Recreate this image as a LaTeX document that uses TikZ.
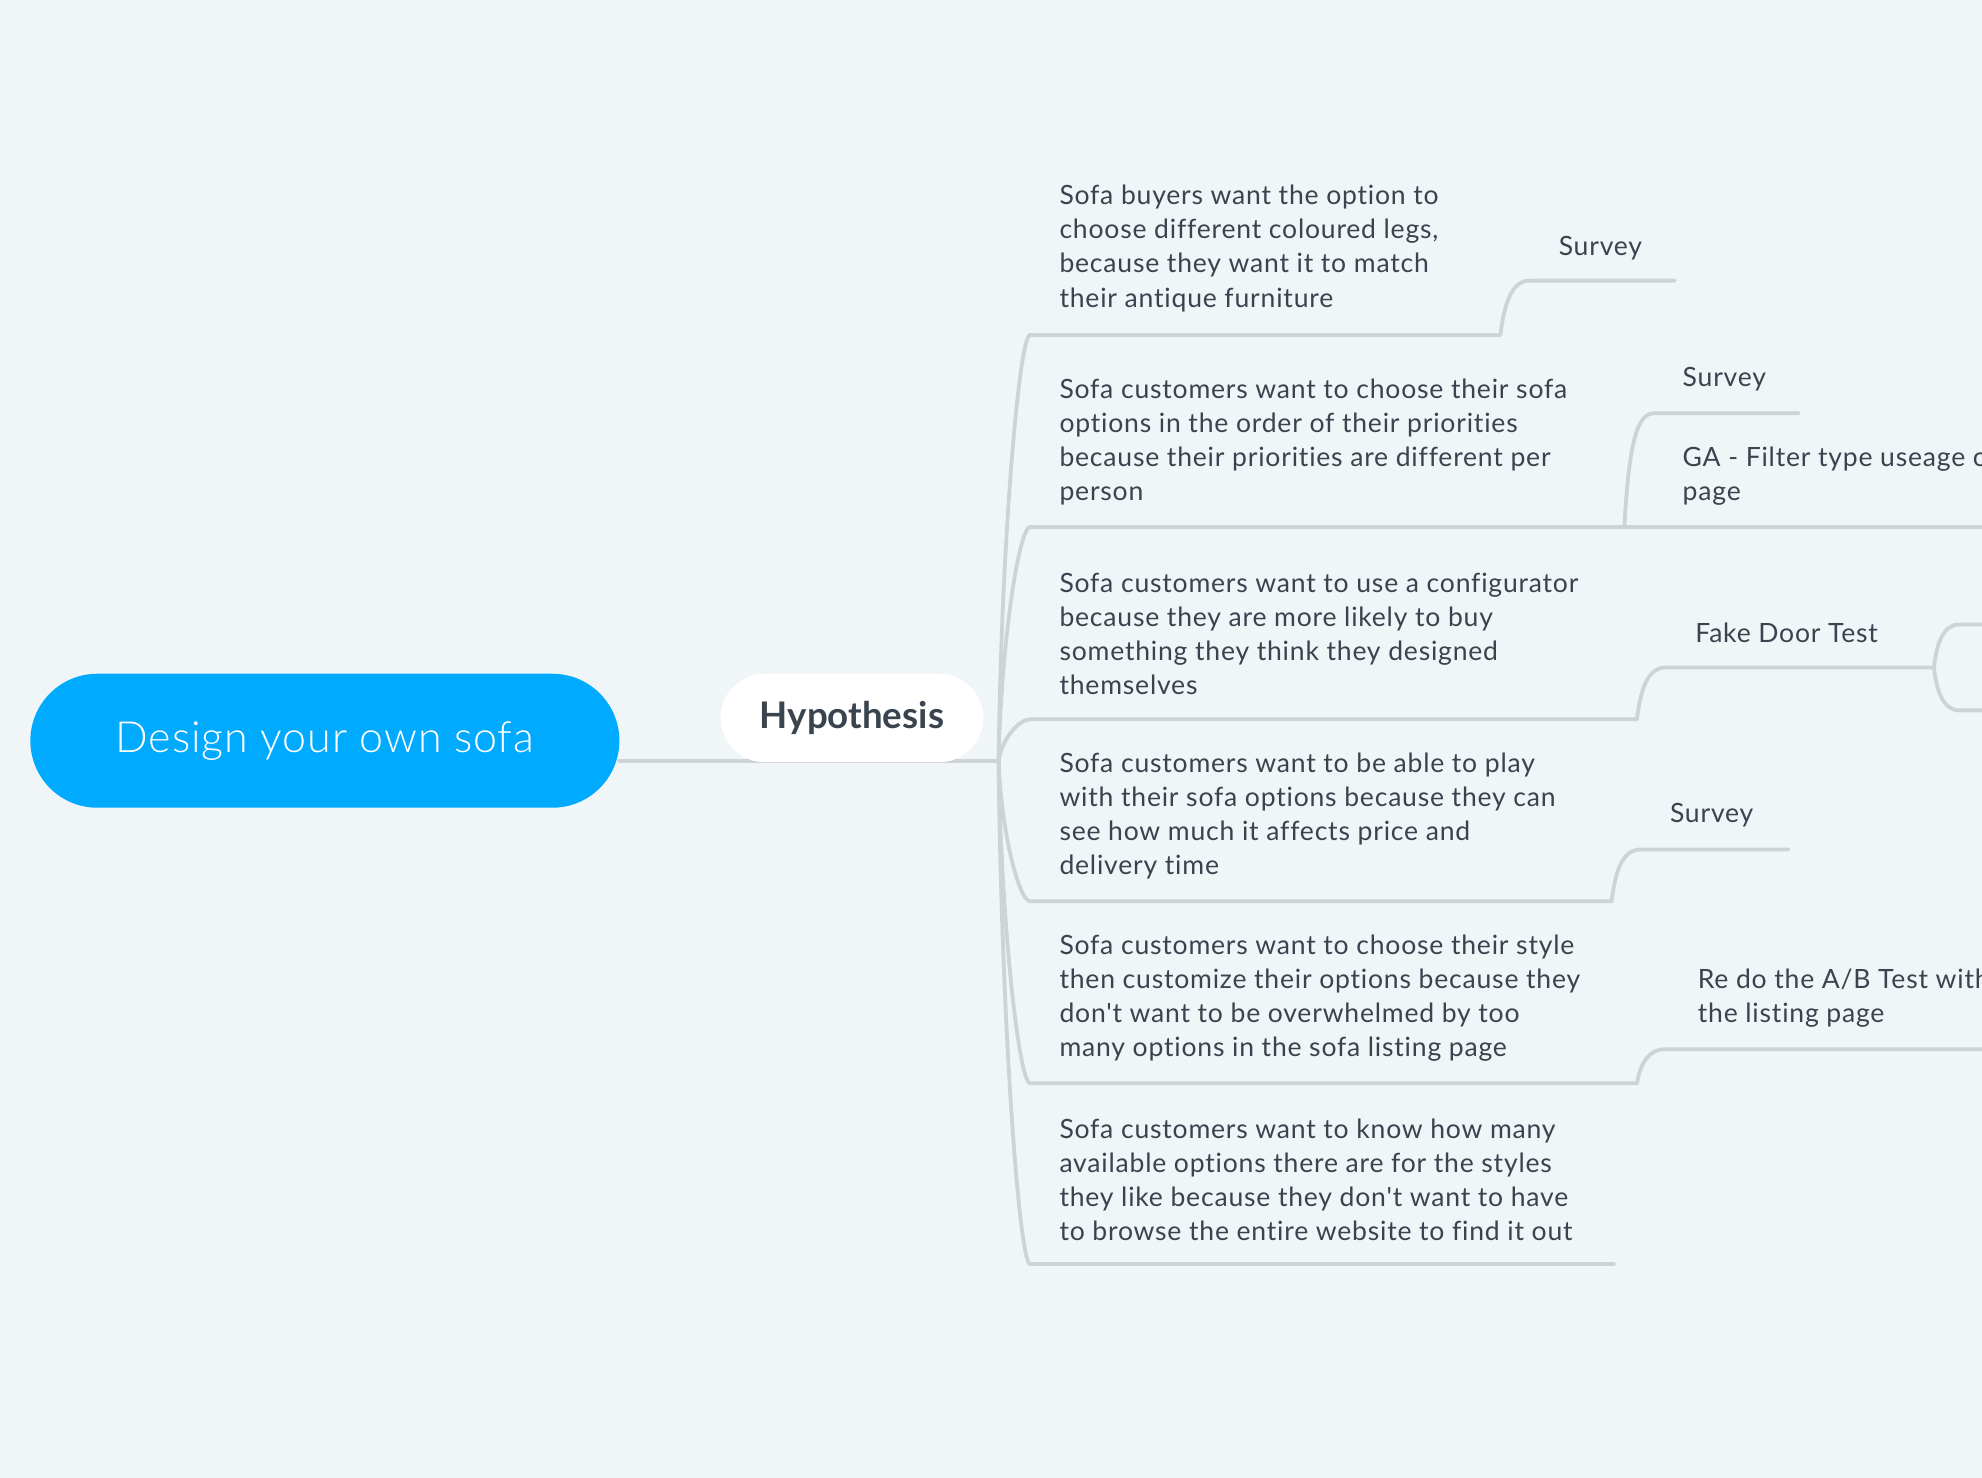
\documentclass[tikz,border=0pt]{standalone}
\usepackage{fontspec}
\setmainfont{Lato}[Ligatures={NoCommon}]
\newfontfamily\ideafont{Lato}[LetterSpace=3, Ligatures={NoCommon}]
\newfontfamily\rootfont{Lato}[UprightFont=* Light, LetterSpace=2]
\usepackage{tikz}
\usetikzlibrary{positioning}

\definecolor{bgcol}{HTML}{F0F5F8}
\definecolor{rootblue}{HTML}{00AAFF}
\definecolor{inkgray}{HTML}{3A444E}
\definecolor{linegray}{HTML}{CDD3D7}

\tikzset{
  branch/.style={draw=linegray, line width=3pt, line cap=round},
  rootpill/.style={fill=rootblue, rounded corners=53pt, minimum width=466pt, minimum height=106pt,
    text=white, font=\rootfont\fontsize{34}{40}\selectfont},
  mainpill/.style={fill=white, rounded corners=35pt, minimum width=208pt, minimum height=70pt,
    text=inkgray, font=\fontsize{29}{34}\selectfont\bfseries},
  idea/.style={anchor=west, inner sep=0pt, align=left, text=inkgray, font=\ideafont\fontsize{21}{27}\selectfont},
}

\begin{document}
\begin{tikzpicture}[x=1pt, y=-1pt]
    \fill[bgcol] (0,0) rectangle (1568,1169);
    \clip (0,0) rectangle (1568,1169);

    \node[rootpill] (root) at (257,586) {Design your own sofa};

    % hub and branch points
    \coordinate (hub) at (790,602);
    \coordinate (u1) at (815,265);  \coordinate (e1) at (1187,265);
    \coordinate (u2) at (815,417);  \coordinate (e2) at (1285,417);
    \coordinate (u3) at (815,569);  \coordinate (e3) at (1295,569);
    \coordinate (u4) at (815,713);  \coordinate (e4) at (1275,713);
    \coordinate (u5) at (815,857);  \coordinate (e5) at (1295,857);
    \coordinate (u6) at (815,1000); \coordinate (e6) at (1277,1000);

    \draw[branch] (hub -| root.east) -- (hub);
    \node[mainpill] (hyp) at (674,568) {Hypothesis};

    \foreach \n/\y in {1/265,2/417,3/569,4/713,5/857,6/1000}
        \draw[branch] (hub) .. controls (792,{(602+\y)/2}) and (806,\y) .. (u\n) -- (e\n);

    % leaf connectors
    \coordinate (t1) at (1210,222); \coordinate (t1e) at (1325,222);
    \coordinate (t2) at (1308,327); \coordinate (t2e) at (1423,327);
    \coordinate (t3e) at (1600,417);
    \coordinate (t4) at (1318,528); \coordinate (t4e) at (1530,528);
    \coordinate (t5) at (1298,672); \coordinate (t5e) at (1415,672);
    \coordinate (t6) at (1318,830); \coordinate (t6e) at (1600,830);
    \coordinate (k1) at (1550,494); \coordinate (k2) at (1550,562);

    \draw[branch] (e1) .. controls +(3,-25) and +(-14,0) .. (t1) -- (t1e);
    \draw[branch] (e2) .. controls +(3,-50) and +(-16,0) .. (t2) -- (t2e);
    \draw[branch] (e2) -- (t3e);
    \draw[branch] (e3) .. controls +(3,-25) and +(-14,0) .. (t4) -- (t4e);
    \draw[branch] (t4e) .. controls +(2,-20) and +(-12,0) .. (k1) -- (1600,494);
    \draw[branch] (t4e) .. controls +(2,20) and +(-12,0) .. (k2) -- (1600,562);
    \draw[branch] (e4) .. controls +(3,-25) and +(-14,0) .. (t5) -- (t5e);
    \draw[branch] (e5) .. controls +(3,-16) and +(-14,0) .. (t6) -- (t6e);

    % hypotheses
    \node[idea] (h1) at (838,196.5) {Sofa buyers want the option to\\choose different coloured legs,\\because they want it to match\\their antique furniture};
    \node[idea] (h2) at (838,349.5) {Sofa customers want to choose their sofa\\options in the order of their priorities\\because their priorities are different per\\person};
    \node[idea] (h3) at (838,501.5) {Sofa customers want to use a configurator\\because they are more likely to buy\\something they think they designed\\themselves};
    \node[idea] (h4) at (838,645.5) {Sofa customers want to be able to play\\with their sofa options because they can\\see how much it affects price and\\delivery time};
    \node[idea] (h5) at (838,789.5) {Sofa customers want to choose their style\\then customize their options because they\\don't want to be overwhelmed by too\\many options in the sofa listing page};
    \node[idea] (h6) at (838,933.5) {Sofa customers want to know how many\\available options there are for the styles\\they like because they don't want to have\\to browse the entire website to find it out};

    % tests
    \node[idea] (s1) at (1233,196) {Survey};
    \node[idea] (s2) at (1331,300) {Survey};
    \node[idea] (s3) at (1331,376.5) {GA - Filter type useage o\\page};
    \node[idea] (s4) at (1341,501) {Fake Door Test};
    \node[idea] (s5) at (1321,645) {Survey};
    \node[idea] (s6) at (1343,789.5) {Re do the A/B Test with\\the listing page};
\end{tikzpicture}
\end{document}
